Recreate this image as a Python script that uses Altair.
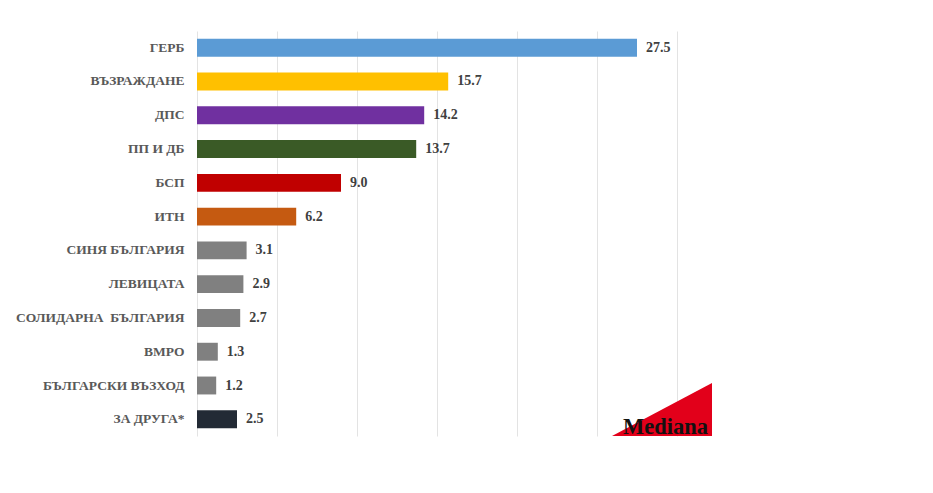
import altair as alt
import pandas as pd

parties = ["ГЕРБ", "ВЪЗРАЖДАНЕ", "ДПС", "ПП И ДБ", "БСП", "ИТН",
           "СИНЯ БЪЛГАРИЯ", "ЛЕВИЦАТА", "СОЛИДАРНА\u00a0 БЪЛГАРИЯ", "ВМРО",
           "БЪЛГАРСКИ ВЪЗХОД", "ЗА ДРУГА*"]
values = [27.5, 15.7, 14.2, 13.7, 9.0, 6.2, 3.1, 2.9, 2.7, 1.3, 1.2, 2.5]
colors = ["#5B9BD5", "#FFC000", "#7030A0", "#3A5A26", "#C00000", "#C55A11",
          "#808080", "#808080", "#808080", "#808080", "#808080", "#222A35"]

df = pd.DataFrame({"party": parties, "value": values, "color": colors,
                   "label": [f"{v:.1f}" for v in values]})

y = alt.Y("party:N", sort=None, title=None,
          scale=alt.Scale(paddingInner=0.47, paddingOuter=0.23),
          axis=alt.Axis(domain=False, ticks=False, labelPadding=13,
                        labelFont="Liberation Serif", labelFontWeight="bold",
                        labelFontSize=13.5, labelColor="#595959"))
x = alt.X("value:Q", title=None,
          scale=alt.Scale(domain=[0, 30], nice=False),
          axis=alt.Axis(values=[0, 5, 10, 15, 20, 25, 30], labels=False,
                        ticks=False, domain=False, grid=True,
                        gridColor="#E3E3E3", gridWidth=1))

base = alt.Chart(df)
bars = base.mark_bar().encode(x=x, y=y, color=alt.Color("color:N", scale=None))
text = base.mark_text(align="left", dx=9, font="Liberation Serif",
                      fontWeight="bold", fontSize=14, color="#404040").encode(
    x="value:Q", y=alt.Y("party:N", sort=None), text="label:N")

logo_df = pd.DataFrame({"name": ["Mediana"]})
tri = alt.Chart(logo_df).mark_point(
    shape="M -1 1 L 1 -0.06 L 1 1 Z", filled=True, opacity=1,
    color="#E2001A", size=10000, strokeWidth=0).encode(
    x=alt.value(465), y=alt.value(355))
logo_text = alt.Chart(logo_df).mark_text(
    align="left", baseline="alphabetic", font="Liberation Serif",
    fontWeight="bold", fontSize=22.5, color="#111111").encode(
    x=alt.value(426), y=alt.value(403), text="name:N")

chart = alt.layer(bars, text, tri, logo_text).properties(
    width=480, height=405,
    padding={"left": 189, "top": 23, "right": 230, "bottom": 40},
    autosize=alt.AutoSizeParams(type="none"),
).configure_view(stroke=None)

chart.save("out.html", embed_options={"renderer": "svg", "actions": False})
